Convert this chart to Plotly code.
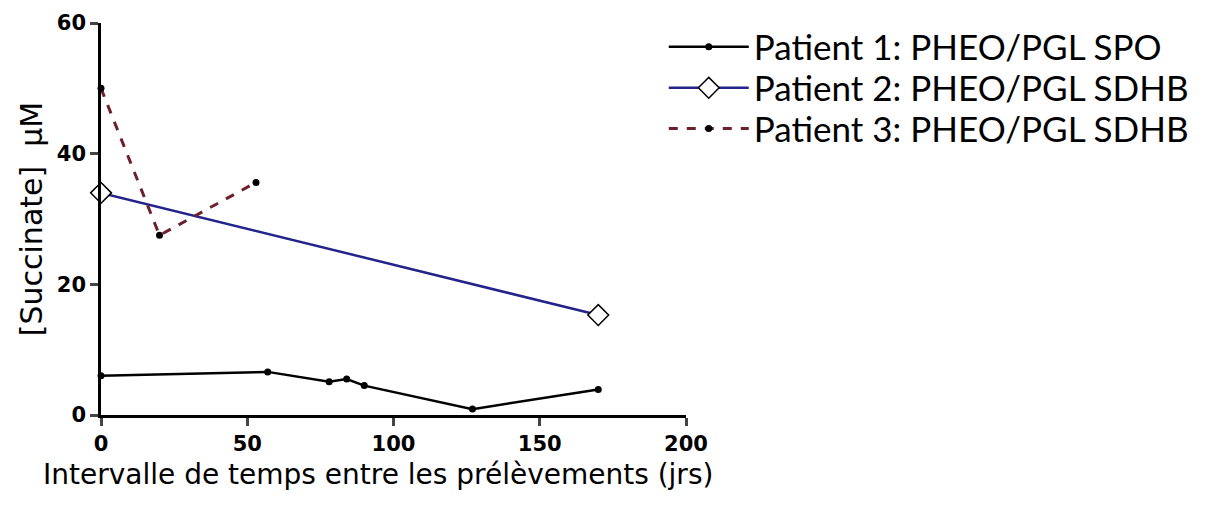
import plotly.graph_objects as go

# Data
p1_x = [0, 57, 78, 84, 90, 127, 170]
p1_y = [6.0, 6.6, 5.1, 5.5, 4.5, 0.9, 3.9]
p2_x = [0, 170]
p2_y = [34.0, 15.3]
p3_x = [0, 20, 53]
p3_y = [50.0, 27.5, 35.6]

names = ["Patient 1: PHEO/PGL SPO", "Patient 2: PHEO/PGL SDHB", "Patient 3: PHEO/PGL SDHB"]
x_ticks = [0, 50, 100, 150, 200]
y_ticks = [0, 20, 40, 60]
x_title = "Intervalle de temps entre les prélèvements (jrs)"
y_title = "[Succinate]  µM"

fig = go.Figure()
fig.add_trace(go.Scatter(x=p1_x, y=p1_y, mode="lines+markers", name=names[0], legend="legend",
                         line=dict(color="black", width=2.5),
                         marker=dict(color="black", size=7), cliponaxis=False))
fig.add_trace(go.Scatter(x=p2_x, y=p2_y, mode="lines+markers", name=names[1], legend="legend2",
                         line=dict(color="#23238c", width=2.5),
                         marker=dict(symbol="diamond", color="white", size=16,
                                     line=dict(color="black", width=1.5)), cliponaxis=False))
fig.add_trace(go.Scatter(x=p3_x, y=p3_y, mode="lines+markers", name=names[2], legend="legend3",
                         line=dict(color="#6e1f2c", width=3, dash="dash"),
                         marker=dict(color="black", size=7), cliponaxis=False))

leg_font = dict(family="Lato, Liberation Sans, sans-serif", size=35, color="black")
leg_common = dict(x=0.962, xanchor="left", yanchor="middle", font=leg_font,
                  itemwidth=80, bgcolor="rgba(0,0,0,0)")

tick_font = dict(size=21, family="DejaVu Sans", weight="bold", color="black")

fig.update_layout(
    width=1212, height=506,
    margin=dict(l=101, r=526, t=23, b=91),
    paper_bgcolor="white", plot_bgcolor="white",
    font=dict(family="DejaVu Sans, sans-serif", color="black"),
    showlegend=True,
    legend=dict(y=0.939, **leg_common),
    legend2=dict(y=0.834, **leg_common),
    legend3=dict(y=0.730, **leg_common),
    xaxis=dict(range=[0, 200], tickvals=x_ticks, ticks="outside", ticklen=8, tickwidth=2.5,
               showline=True, linewidth=2.5, linecolor="black", showgrid=False, zeroline=False,
               tickfont=tick_font),
    yaxis=dict(range=[0, 60], tickvals=y_ticks, ticks="outside", ticklen=8, tickwidth=2.5,
               showline=True, linewidth=2.5, linecolor="black", showgrid=False, zeroline=False,
               tickfont=tick_font,
               title=dict(text=y_title, font=dict(size=30, family="DejaVu Sans"), standoff=6)),
    annotations=[dict(text=x_title, xref="paper", yref="paper", x=0.4735, y=-0.152,
                      xanchor="center", yanchor="middle", showarrow=False,
                      font=dict(size=28, family="DejaVu Sans", color="black"))],
)

fig.write_html("out.html", config={"displayModeBar": False},
               post_script="document.body.style.margin='0';")
